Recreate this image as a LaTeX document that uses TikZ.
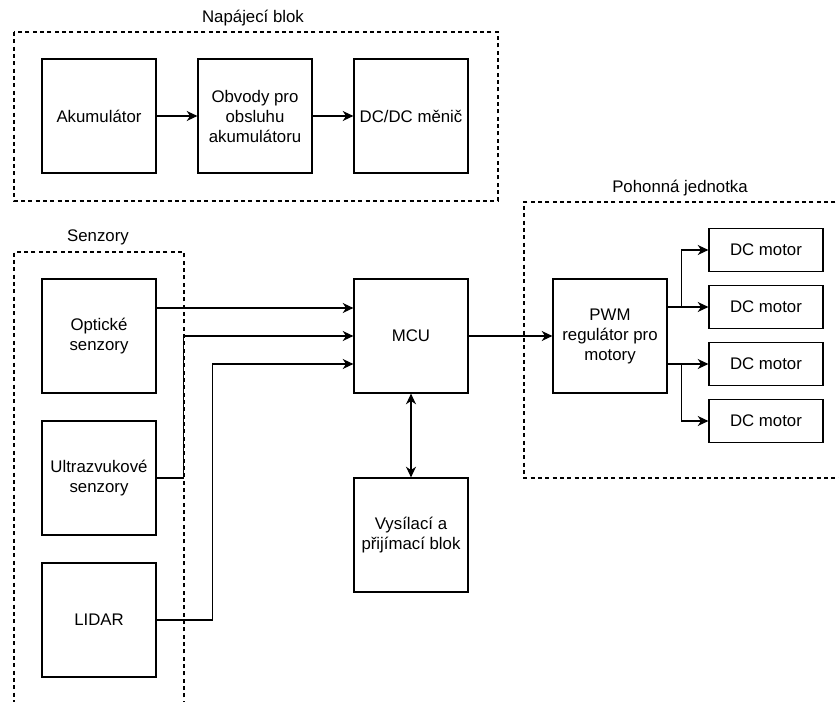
\documentclass[tikz,border=0pt]{standalone}
\usepackage{fontspec}
\setmainfont{Liberation Sans}
\usepackage{tikz}
\usetikzlibrary{arrows.meta}

\begin{document}
\begin{tikzpicture}[x=0.75pt, y=-0.75pt, font=\fontsize{12.6}{15}\selectfont,
  box/.style={draw, line width=0.9pt, align=center, inner sep=2pt, minimum width=85.5pt, minimum height=85.5pt},
  motor/.style={box, minimum height=32.25pt},
  grp/.style={draw, line width=0.8pt, dash pattern=on 3pt off 2.5pt},
  arr/.style={-{Stealth[length=8pt, width=7.5pt, inset=2.5pt]}, line width=0.9pt},
  biarr/.style={{Stealth[length=8pt, width=7.5pt, inset=2.5pt]}-{Stealth[length=8pt, width=7.5pt, inset=2.5pt]}, line width=0.9pt}]
\useasboundingbox (0,0) rectangle (839,702);
% skupiny
\draw[grp] (14,32) rectangle (498,201);
\draw[grp] (184,712) -- (184,252) -- (14,252) -- (14,712);
\draw[grp] (850,202) -- (524,202) -- (524,478) -- (850,478);
\node (tN) at (253,18) {Napájecí blok};
\node (tS) at (98,237) {Senzory};
\node (tP) at (680,188) {Pohonná jednotka};
% napajeni
\node[box] (akum) at (99,116) {Akumulátor};
\node[box] (obv) at (255,116) {Obvody pro\\obsluhu\\akumulátoru};
\node[box] (dcdc) at (411,116) {DC/DC měnič};
% senzory
\node[box] (opt) at (99,336) {Optické\\senzory};
\node[box] (ultra) at (99,478) {Ultrazvukové\\senzory};
\node[box] (lidar) at (99,620) {LIDAR};
% ridici cast
\node[box] (mcu) at (411,336) {MCU};
\node[box] (vys) at (411,535) {Vysílací a\\přijímací blok};
\node[box] (pwm) at (610,336) {PWM\\regulátor pro\\motory};
\node[motor] (m1) at (766,250) {DC motor};
\node[motor] (m2) at (766,307) {DC motor};
\node[motor] (m3) at (766,364) {DC motor};
\node[motor] (m4) at (766,421) {DC motor};
\draw[arr] (akum) -- (obv); \draw[arr] (obv) -- (dcdc);
\draw[arr] ([yshift=21pt]opt.east) -- ([yshift=21pt]mcu.west);
\draw[arr] (ultra.east) -- ++(27,0) |- (mcu.west);
\draw[arr] (lidar.east) -- ++(56,0) |- ([yshift=-21pt]mcu.west);
\draw[biarr] (mcu) -- (vys);
\draw[arr] (mcu) -- (pwm);
\draw[arr] (pwm.east |- m2) -- (m2.west);
\draw[arr] (pwm.east |- m2) -- ++(14,0) |- (m1.west);
\draw[arr] (pwm.east |- m3) -- (m3.west);
\draw[arr] (pwm.east |- m3) -- ++(14,0) |- (m4.west);
\end{tikzpicture}
\end{document}
